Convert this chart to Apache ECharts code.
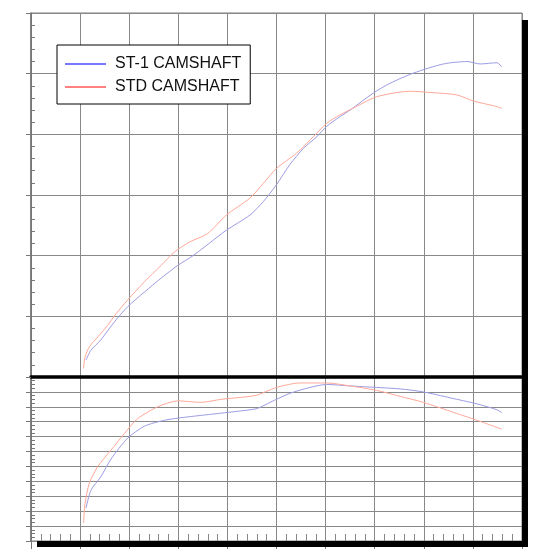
<!DOCTYPE html>
<html>
<head>
<meta charset="utf-8">
<script src="https://cdn.jsdelivr.net/npm/echarts@6/dist/echarts.min.js"></script>
<style>
    html, body { margin: 0; padding: 0; background: #ffffff; }
    #chart { width: 550px; height: 560px; }
</style>
</head>
<body>
<div id="chart"></div>
<script>
const seriesNames = ["ST-1 CAMSHAFT", "STD CAMSHAFT"];

// [rpm, power]
const st1Power = [
    [1120, 2.8], [1220, 4.4], [1420, 6.1], [1700, 9.1], [1970, 11.6], [2310, 14.0],
    [2650, 16.3], [2990, 18.4], [3300, 20.0], [3640, 22.1], [3980, 24.2], [4460, 26.7],
    [4730, 28.9], [5000, 31.7], [5270, 35.0], [5550, 37.7], [5820, 39.6], [6020, 41.3],
    [6290, 42.9], [6500, 44.0], [6970, 46.8], [7310, 48.4], [7790, 50.1], [8400, 51.6],
    [8880, 52.0], [9150, 51.6], [9490, 51.8], [9590, 51.1]
];
const stdPower = [
    [1070, 1.4], [1100, 3.3], [1190, 5.0], [1360, 6.6], [1560, 8.5], [1700, 10.1],
    [1970, 12.7], [2310, 15.7], [2650, 18.4], [2920, 20.6], [3240, 22.3], [3590, 23.6],
    [3980, 26.7], [4460, 29.5], [4730, 31.9], [5000, 34.4], [5410, 36.9], [5750, 39.6],
    [6020, 41.8], [6290, 43.2], [6630, 44.6], [7040, 46.2], [7720, 47.1], [8130, 46.9],
    [8670, 46.5], [9010, 45.5], [9420, 44.7], [9590, 44.3]
];

// [rpm, torque]
const st1Torque = [
    [1120, 2.2], [1220, 3.4], [1420, 4.3], [1630, 5.5], [1970, 6.9], [2310, 7.7],
    [2720, 8.1], [3130, 8.3], [3670, 8.5], [4210, 8.7], [4460, 8.8], [4620, 8.9],
    [4870, 9.3], [5270, 9.9], [5680, 10.3], [6020, 10.5], [6500, 10.4], [7040, 10.3],
    [7520, 10.2], [7990, 10.0], [8540, 9.6], [9080, 9.2], [9490, 8.8], [9590, 8.6]
];
const stdTorque = [
    [1070, 1.2], [1100, 2.5], [1190, 3.9], [1360, 5.0], [1630, 6.1], [1900, 7.2],
    [2170, 8.2], [2580, 9.0], [2990, 9.4], [3460, 9.3], [3870, 9.5], [4460, 9.7],
    [4620, 9.8], [5000, 10.3], [5480, 10.6], [6020, 10.6], [6500, 10.4], [7040, 10.1],
    [7520, 9.7], [7990, 9.3], [8540, 8.7], [9080, 8.1], [9590, 7.5]
];

const rpmRange = { min: 0, max: 10000, interval: 1000 };
const powerRange = { min: 0, max: 60, interval: 10 };
const torqueRange = { min: 0, max: 11, interval: 1 };

const gridColor = "#888888";
const blue = "#9c9ce4";
const red = "#ffa898";
const legendBlue = "#7878ff";
const legendRed = "#ff8080";

function buildXAxis(gridIndex, isBottom) {
    return {
        type: "value",
        gridIndex,
        min: rpmRange.min,
        max: rpmRange.max,
        interval: rpmRange.interval,
        axisLabel: { show: false },
        axisLine: isBottom
            ? { show: true, lineStyle: { color: gridColor, width: 1 } }
            : { show: true, onZero: false, lineStyle: { color: "#000000", width: 3.5 } },
        axisTick: isBottom
            ? { show: true, inside: false, length: 8, lineStyle: { color: "#777777" } }
            : { show: false },
        minorTick: isBottom
            ? { show: true, splitNumber: 5, length: -7, lineStyle: { color: "#888888" } }
            : { show: false },
        splitLine: { show: true, lineStyle: { color: gridColor, width: 1 } }
    };
}

function buildYAxis(gridIndex, range, minorSplit) {
    return {
        type: "value",
        gridIndex,
        min: range.min,
        max: range.max,
        interval: range.interval,
        axisLabel: { show: false },
        axisLine: { show: true, lineStyle: { color: "#707070", width: 1.5 } },
        axisTick: { show: true, inside: false, length: 5, lineStyle: { color: "#777777" } },
        minorTick: { show: true, splitNumber: minorSplit, length: -4, lineStyle: { color: "#777777" } },
        splitLine: { show: true, lineStyle: { color: gridColor, width: 1 } }
    };
}

function buildLine(name, data, color, axisIndex) {
    return {
        name,
        type: "line",
        xAxisIndex: axisIndex,
        yAxisIndex: axisIndex,
        data,
        symbol: "none",
        smooth: 0.25,
        color,
        lineStyle: { color, width: 1 },
        z: 3
    };
}

const chart = echarts.init(document.getElementById("chart"), null, { renderer: "canvas" });

chart.setOption({
    backgroundColor: "#ffffff",
    animation: false,
    grid: [
        { left: 31, top: 13, width: 491, height: 364, show: true, borderColor: "#7a7a7a", borderWidth: 1 },
        { left: 31, top: 377, width: 491, height: 164, show: true, borderColor: "#7a7a7a", borderWidth: 1 }
    ],
    legend: {
        data: [
            { name: seriesNames[0], lineStyle: { color: legendBlue } },
            { name: seriesNames[1], lineStyle: { color: legendRed } }
        ],
        orient: "vertical",
        left: 57,
        top: 45,
        padding: [11, 9, 9, 7],
        itemWidth: 41,
        itemHeight: 14,
        itemGap: 7,
        backgroundColor: "#ffffff",
        borderColor: "#000000",
        borderWidth: 1,
        itemStyle: { opacity: 0 },
        lineStyle: { width: 2 },
        textStyle: {
            fontFamily: "Liberation Sans",
            fontSize: 16,
            color: "#111111",
            padding: [0, 0, 0, 4]
        }
    },
    xAxis: [buildXAxis(0, false), buildXAxis(1, true)],
    yAxis: [buildYAxis(0, powerRange, 5), buildYAxis(1, torqueRange, 4)],
    series: [
        buildLine(seriesNames[0], st1Power, blue, 0),
        buildLine(seriesNames[1], stdPower, red, 0),
        buildLine(seriesNames[0], st1Torque, blue, 1),
        buildLine(seriesNames[1], stdTorque, red, 1)
    ],
    graphic: [
        // drop shadow along the right and bottom of the frame
        { type: "rect", z: 100, shape: { x: 522, y: 20, width: 6, height: 527 }, style: { fill: "#000000" } },
        { type: "rect", z: 100, shape: { x: 37, y: 541, width: 491, height: 6 }, style: { fill: "#000000" } }
    ]
});
</script>
</body>
</html>
